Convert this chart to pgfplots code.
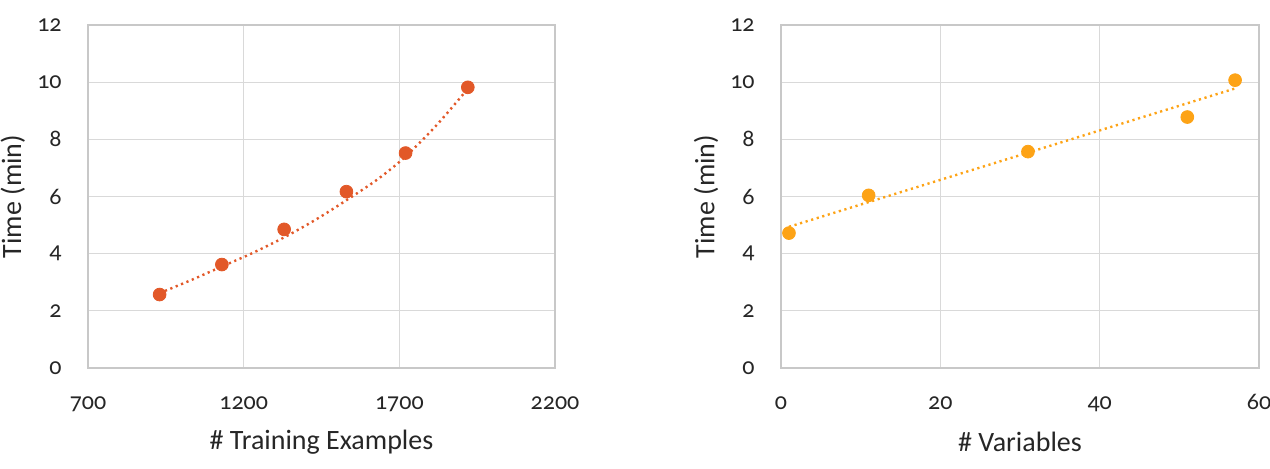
\documentclass[border=0pt]{standalone}
\usepackage{fontspec}
\setmainfont{Carlito}[Numbers=OldStyle]
\usepackage{pgfplots}
\pgfplotsset{compat=1.18}
\definecolor{redorange}{RGB}{226,88,40}
\definecolor{amber}{RGB}{253,163,22}
\definecolor{gridgray}{RGB}{217,217,217}
\definecolor{bordergray}{RGB}{200,200,200}
\definecolor{txt}{RGB}{38,38,38}
\pgfplotsset{
  myaxis/.style={
    scale only axis,
    height=171.5pt,
    ymin=0, ymax=12,
    ytick={0,2,...,12},
    grid=major,
    major grid style={gridgray, line width=0.6pt},
    axis line style={bordergray, line width=0.7pt},
    major tick length=0pt,
    tick label style={font=\fontsize{12}{14}\selectfont, text=txt},
    /pgf/number format/assume math mode=true,
    /pgf/number format/1000 sep={},
    yticklabel style={anchor=east, inner sep=0pt, xshift=-13pt},
    xticklabel style={anchor=center, inner sep=0pt, yshift=-18.5pt, text height=1.0ex, text depth=0ex},
    label style={font=\fontsize{14}{16}\selectfont, text=txt},
    xlabel style={at={(axis description cs:0.5,-0.216)}, anchor=center},
    ylabel style={anchor=center, rotate=0},
    clip=false,
  },
  trend/.style={line width=1.2pt, dash pattern=on 1.1pt off 1.8pt},
}
\begin{document}
\begin{tikzpicture}
\useasboundingbox (0,0) rectangle (635pt,234pt);
% Left: training examples
\begin{axis}[myaxis,
  at={(44pt,50pt)}, anchor=south west,
  width=233.5pt,
  xmin=700, xmax=2200,
  xtick={700,1200,1700,2200},
  xlabel={\# Training Examples},
  ylabel={Time (min)},
  ylabel style={at={(axis description cs:-0.161,0.5)}},
]
\addplot[only marks, mark=*, mark size=3.2pt, redorange, mark options={draw=redorange, fill=redorange}] coordinates {
  (930,2.57) (1130,3.62) (1330,4.85) (1530,6.17) (1720,7.52) (1920,9.82)
};
\addplot[redorange, trend, smooth, tension=0.5] coordinates {
  (930,2.62) (1030,3.07) (1130,3.55) (1230,4.03) (1330,4.57) (1430,5.18)
  (1530,5.87) (1630,6.60) (1720,7.40) (1820,8.50) (1920,9.77)
};
\end{axis}
% Right: variables
\begin{axis}[myaxis,
  at={(390.5pt,50pt)}, anchor=south west,
  width=239pt,
  xmin=0, xmax=60,
  xtick={0,20,40,60},
  xlabel={\# Variables},
  ylabel={Time (min)},
  ylabel style={at={(axis description cs:-0.157,0.5)}},
]
\addplot[only marks, mark=*, mark size=3.2pt, amber, mark options={draw=amber, fill=amber}] coordinates {
  (1,4.72) (11,6.04) (31,7.57) (51,8.78) (57,10.07)
};
\addplot[amber, trend] coordinates {
  (1,4.94) (57,9.78)
};
\end{axis}
\end{tikzpicture}
\end{document}
